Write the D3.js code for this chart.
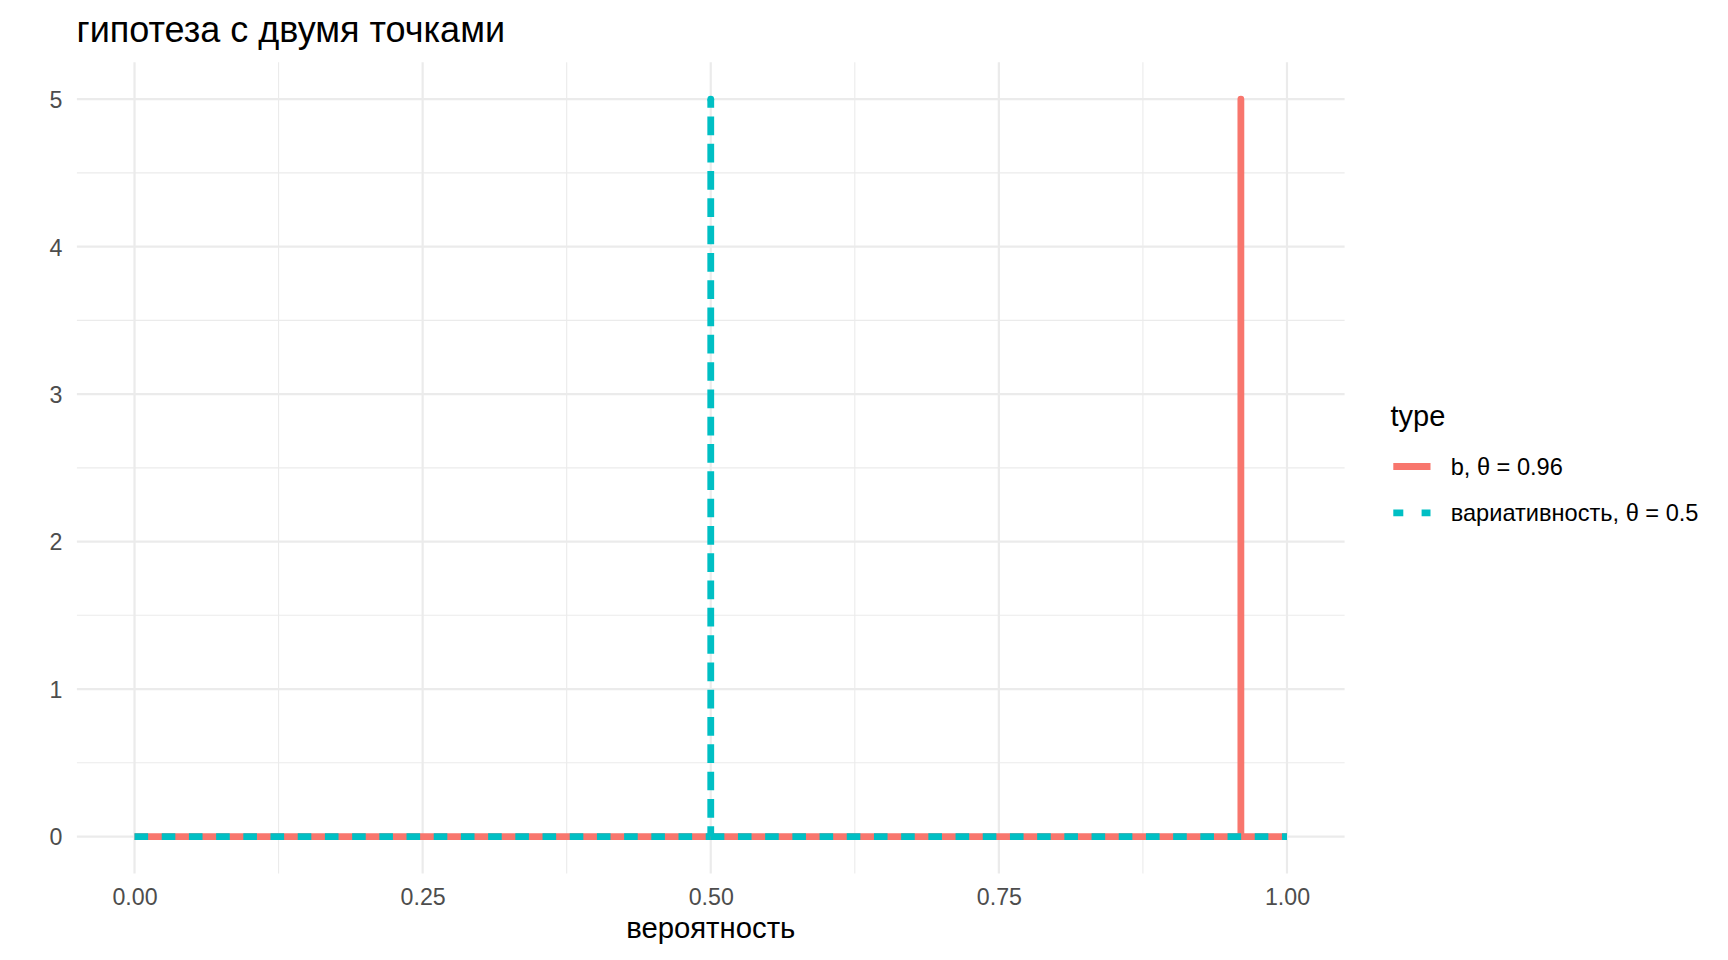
<!DOCTYPE html>
<html>
<head>
<meta charset="utf-8">
<script src="https://cdn.jsdelivr.net/npm/d3@7"></script>
<style>
  html, body { margin: 0; padding: 0; background: #fff; }
  svg { display: block; }
  text { font-family: "Liberation Sans", Arial, sans-serif; }
</style>
</head>
<body>
<svg id="chart" width="1728" height="960"></svg>
<script>
// ---- data ----
const title = "гипотеза с двумя точками";
const xLabel = "вероятность";
const legendTitle = "type";
const seriesNames = ["b, θ = 0.96", "вариативность, θ = 0.5"];
const seriesColors = ["#F8766D", "#00BFC4"];
const seriesDashH = [null, "13.6,13.6"];
const seriesDashV = [null, "18.7,8.6"];
const legendDash = [null, "10,18.3"];
// each series: a two-point hypothesis drawn as a path
const seriesX = [
  [0, 0.96, 0.96, 0.96, 1],
  [0, 0.5, 0.5, 0.5, 1]
];
const seriesY = [
  [0, 0, 5, 0, 0],
  [0, 0, 5, 0, 0]
];
const xTicks = [0, 0.25, 0.5, 0.75, 1];
const xMinor = [0.125, 0.375, 0.625, 0.875];
const yTicks = [0, 1, 2, 3, 4, 5];
const yMinor = [0.5, 1.5, 2.5, 3.5, 4.5];

// ---- layout ----
const svg = d3.select("#chart");
const panel = { left: 76.9, right: 1344.6, top: 62.3, bottom: 873.4 };
const x = d3.scaleLinear().domain([-0.05, 1.05]).range([panel.left, panel.right]);
const y = d3.scaleLinear().domain([-0.25, 5.25]).range([panel.bottom, panel.top]);

// grid
const g = svg.append("g");
g.selectAll(".xminor").data(xMinor).enter().append("line")
  .attr("x1", d => x(d)).attr("x2", d => x(d))
  .attr("y1", panel.top).attr("y2", panel.bottom)
  .attr("stroke", "#EBEBEB").attr("stroke-width", 1.1);
g.selectAll(".yminor").data(yMinor).enter().append("line")
  .attr("y1", d => y(d)).attr("y2", d => y(d))
  .attr("x1", panel.left).attr("x2", panel.right)
  .attr("stroke", "#EBEBEB").attr("stroke-width", 1.1);
g.selectAll(".xmajor").data(xTicks).enter().append("line")
  .attr("x1", d => x(d)).attr("x2", d => x(d))
  .attr("y1", panel.top).attr("y2", panel.bottom)
  .attr("stroke", "#EBEBEB").attr("stroke-width", 2.2);
g.selectAll(".ymajor").data(yTicks).enter().append("line")
  .attr("y1", d => y(d)).attr("y2", d => y(d))
  .attr("x1", panel.left).attr("x2", panel.right)
  .attr("stroke", "#EBEBEB").attr("stroke-width", 2.2);

// axes (labels only, via d3 axes)
const xAxis = d3.axisBottom(x).tickValues(xTicks).tickFormat(d3.format(".2f")).tickSize(0).tickPadding(0);
const xa = svg.append("g").attr("transform", `translate(0,${panel.bottom})`).call(xAxis);
xa.select(".domain").remove();
xa.selectAll("text").attr("font-size", 23.2).attr("fill", "#4D4D4D")
  .attr("font-family", "Liberation Sans, Arial, sans-serif")
  .attr("dy", null).attr("y", 905 - panel.bottom);

const yAxis = d3.axisLeft(y).tickValues(yTicks).tickFormat(d3.format("d")).tickSize(0).tickPadding(0);
const ya = svg.append("g").attr("transform", `translate(${panel.left},0)`).call(yAxis);
ya.select(".domain").remove();
ya.selectAll("text").attr("font-size", 23.2).attr("fill", "#4D4D4D")
  .attr("font-family", "Liberation Sans, Arial, sans-serif")
  .attr("x", 62.5 - panel.left).attr("dy", "0.36em").attr("text-anchor", "end");

// series
const line = d3.line().x(d => x(d[0])).y(d => y(d[1]));
seriesNames.forEach((name, i) => {
  const pts = seriesX[i].map((v, j) => [v, seriesY[i][j]]);
  if (!seriesDashH[i]) {
    svg.append("path").datum(pts)
      .attr("d", line)
      .attr("fill", "none")
      .attr("stroke", seriesColors[i])
      .attr("stroke-width", 6.8)
      .attr("stroke-linejoin", "round")
      .attr("stroke-linecap", "butt");
  } else {
    // dashed series: draw horizontal runs and the spike (top-down) separately
    const horiz = [];
    let spike = null;
    for (let j = 0; j < pts.length - 1; j++) {
      const a = pts[j], b = pts[j + 1];
      if (a[0] !== b[0]) horiz.push([a, b]);
      else if (a[1] > b[1]) spike = [a, b];
    }
    horiz.forEach(seg => {
      svg.append("path").datum(seg).attr("d", line)
        .attr("fill", "none").attr("stroke", seriesColors[i])
        .attr("stroke-width", 6.8).attr("stroke-linecap", "butt")
        .attr("stroke-dasharray", seriesDashH[i]);
    });
    if (spike) {
      svg.append("path").datum(spike).attr("d", line)
        .attr("fill", "none").attr("stroke", seriesColors[i])
        .attr("stroke-width", 6.8).attr("stroke-linecap", "butt")
        .attr("stroke-dasharray", seriesDashV[i])
        .attr("stroke-dashoffset", 10);
      // rounded top join
      svg.append("circle").attr("cx", x(spike[0][0])).attr("cy", y(spike[0][1]))
        .attr("r", 3.4).attr("fill", seriesColors[i]);
    }
  }
});

// title
svg.append("text").attr("x", 76.5).attr("y", 41.7)
  .attr("font-size", 36).attr("fill", "#000").text(title);

// x label
svg.append("text").attr("x", x(0.5)).attr("y", 938.3)
  .attr("text-anchor", "middle").attr("font-size", 29.3).attr("fill", "#000").text(xLabel);

// legend
const lg = svg.append("g");
lg.append("text").attr("x", 1390.5).attr("y", 426)
  .attr("font-size", 29).attr("fill", "#000").text(legendTitle);
const rowY = [466.5, 512.8];
seriesNames.forEach((name, i) => {
  const k = lg.append("line")
    .attr("x1", 1393.3).attr("x2", 1430.5)
    .attr("y1", rowY[i]).attr("y2", rowY[i])
    .attr("stroke", seriesColors[i]).attr("stroke-width", 6.8);
  if (legendDash[i]) k.attr("stroke-dasharray", legendDash[i]);
  lg.append("text").attr("x", 1450.7).attr("y", rowY[i] + 8.4)
    .attr("font-size", 23.6).attr("fill", "#000").text(name);
});
</script>
</body>
</html>
